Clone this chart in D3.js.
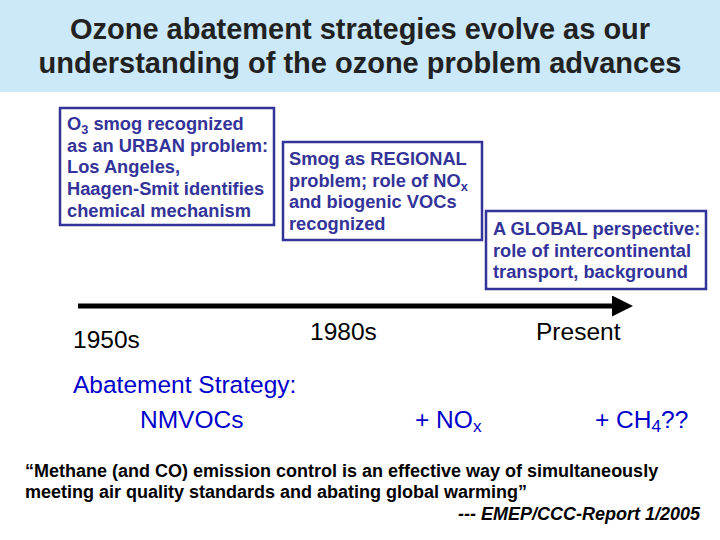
<!DOCTYPE html>
<html><head><meta charset="utf-8">
<script src="https://cdn.jsdelivr.net/npm/d3@7"></script>
<style>body{margin:0;background:#fff}svg{display:block}text{font-family:"Liberation Sans",Arial,sans-serif}</style>
</head><body><svg id="c" width="720" height="540"></svg>
<script>
const titleLines = ["Ozone abatement strategies evolve as our","understanding of the ozone problem advances"];
const eras = ["1950s","1980s","Present"];
const strategies = [["NMVOCs"],["+ NO","x",""],["+ CH","4","??"]];
const boxes = [
 [["O","3"," smog recognized"],["as an URBAN problem:"],["Los Angeles,"],["Haagen-Smit identifies"],["chemical mechanism"]],
 [["Smog as REGIONAL"],["problem; role of NO","x",""],["and biogenic VOCs"],["recognized"]],
 [["A GLOBAL perspective:"],["role of intercontinental"],["transport, background"]]
];
const quote = ["\u201cMethane (and CO) emission control is an effective way of simultaneously","meeting air quality standards and abating global warming\u201d"];
const source = "--- EMEP/CCC-Report 1/2005";

const svg = d3.select("#c");
svg.append("rect").attr("width",720).attr("height",92).attr("fill","#cce9f9");
svg.selectAll(".t").data(titleLines).join("text").attr("x",360).attr("y",(d,i)=>39+i*34)
 .attr("text-anchor","middle").attr("font-weight","bold").attr("fill","#222").attr("font-family","DejaVu Sans, sans-serif").attr("font-size",29).text(d=>d);

function rich(sel, parts, size){
  sel.append("tspan").text(parts[0]);
  if(parts.length>1){
    sel.append("tspan").attr("font-size",size*0.7).attr("dy",4).text(parts[1]);
    if(parts[2]) sel.append("tspan").attr("dy",-4).text(parts[2]);
  }
}
const boxGeo = [[60,108,214,117,67,130],[283,142,199,98,289,165],[486,211,220,78,493,235]];
boxes.forEach((lines,bi)=>{
  const [x,y,w,h,tx,ty]=boxGeo[bi];
  svg.append("rect").attr("x",x).attr("y",y).attr("width",w).attr("height",h).attr("fill","#fff").attr("stroke","#333399").attr("stroke-width",2.5);
  lines.forEach((p,i)=>{
    const t=svg.append("text").attr("x",tx).attr("y",ty+i*21.7).attr("font-size",18.3).attr("font-weight","bold").attr("fill","#333399");
    rich(t,p,18.3);
  });
});
svg.append("defs").append("marker").attr("id","ah").attr("viewBox","0 0 10 10").attr("refX",0).attr("refY",5)
 .attr("markerWidth",4.2).attr("markerHeight",4.2).attr("orient","auto").append("path").attr("d","M0,0L10,5L0,10z").attr("fill","#000");
svg.append("line").attr("x1",78).attr("x2",612).attr("y1",306).attr("y2",306).attr("stroke","#000").attr("stroke-width",5).attr("marker-end","url(#ah)");
const eraX=[73,310,536], eraY=[348,340,340];
svg.selectAll(".e").data(eras).join("text").attr("x",(d,i)=>eraX[i]).attr("y",(d,i)=>eraY[i]).attr("font-size",24.5).attr("fill","#000").text(d=>d);
svg.append("text").attr("x",73).attr("y",393).attr("font-size",24.5).attr("fill","#0000cc").text("Abatement Strategy:");
const sX=[140,415,595];
strategies.forEach((p,i)=>{const t=svg.append("text").attr("x",sX[i]).attr("y",428).attr("font-size",24.5).attr("fill","#0000cc");rich(t,p,24.5);});
svg.selectAll(".q").data(quote).join("text").attr("x",25).attr("y",(d,i)=>477+i*21).attr("font-size",18).attr("font-weight","bold").text(d=>d);
svg.append("text").attr("x",700).attr("y",520).attr("text-anchor","end").attr("font-size",18).attr("font-weight","bold").attr("font-style","italic").text(source);
</script></body></html>
